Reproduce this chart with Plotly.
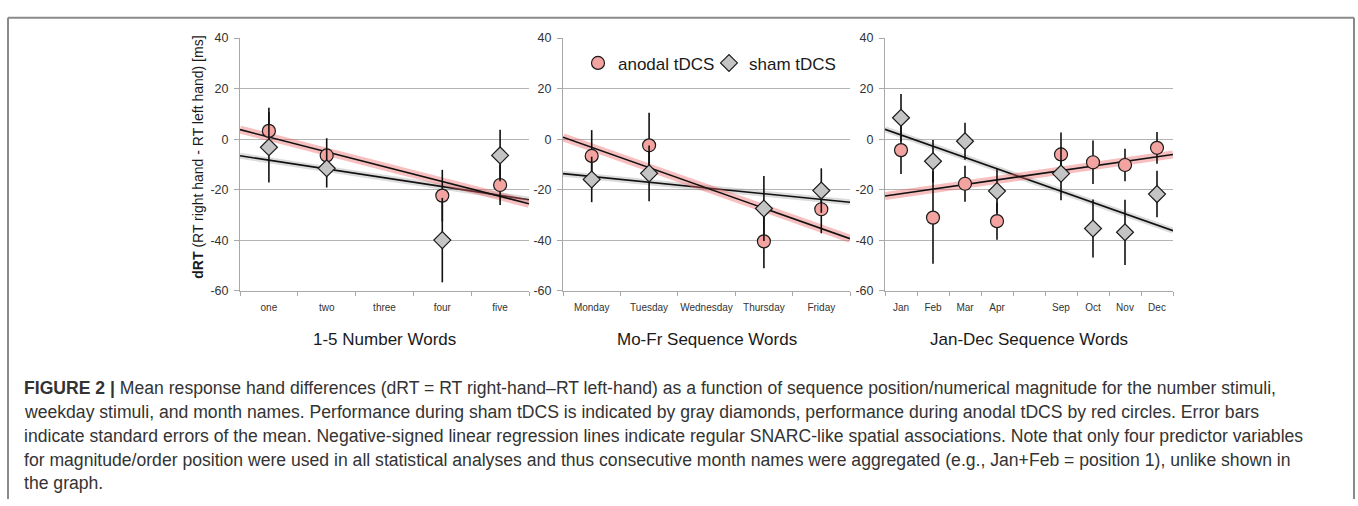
import numpy as np
import plotly.graph_objects as go

# ---------------- data ----------------
p1_categories = ["one", "two", "three", "four", "five"]
p1_x_anodal = ["one", "two", "four", "five"]
p1_anodal = [3.3, -6.4, -22.3, -18.1]
p1_anodal_se = [9.2, 6.8, 10.2, 7.9]
p1_sham = [-3.2, -11.5, -39.9, -6.4]
p1_sham_se = [13.9, 7.6, 16.7, 10.2]

p2_categories = ["Monday", "Tuesday", "Wednesday", "Thursday", "Friday"]
p2_x = ["Monday", "Tuesday", "Thursday", "Friday"]
p2_anodal = [-6.6, -2.4, -40.4, -27.7]
p2_anodal_se = [10.2, 12.9, 10.6, 9.5]
p2_sham = [-15.9, -13.5, -27.4, -20.3]
p2_sham_se = [9.0, 11.0, 12.9, 8.8]

p3_categories = ["Jan", "Feb", "Mar", "Apr", "", "Sep", "Oct", "Nov", "Dec"]
p3_x = ["Jan", "Feb", "Mar", "Apr", "Sep", "Oct", "Nov", "Dec"]
p3_anodal = [-4.3, -31.0, -17.6, -32.4, -6.0, -9.1, -10.2, -3.4]
p3_anodal_se = [9.5, 18.3, 7.1, 7.4, 8.7, 8.6, 6.4, 6.3]
p3_sham = [8.5, -8.7, -0.8, -20.5, -13.6, -35.3, -36.8, -21.7]
p3_sham_se = [9.4, 8.4, 7.3, 8.8, 10.5, 11.5, 12.9, 9.2]

panel_titles = ["1-5 Number Words", "Mo-Fr Sequence Words", "Jan-Dec Sequence Words"]
y_ticks = [-60, -40, -20, 0, 20, 40]
y_tick_labels = ["-60", "-40", "-20", "0", "20", "40"]
y_range = [-60, 40]
legend_names = ["anodal tDCS", "sham tDCS"]
y_title = "<b>dRT</b> (RT right hand - RT left hand) [ms]"

caption_lines = [
    "<b>FIGURE 2 |</b> Mean response hand differences (dRT = RT right-hand\u2013RT left-hand) as a function of sequence position/numerical magnitude for the number stimuli,",
    "weekday stimuli, and month names. Performance during sham tDCS is indicated by gray diamonds, performance during anodal tDCS by red circles. Error bars",
    "indicate standard errors of the mean. Negative-signed linear regression lines indicate regular SNARC-like spatial associations. Note that only four predictor variables",
    "for magnitude/order position were used in all statistical analyses and thus consecutive month names were aggregated (e.g., Jan+Feb = position 1), unlike shown in",
    "the graph.",
]

# ---------------- style ----------------
W, H = 1358, 506
FONT = "Liberation Sans, Arial, sans-serif"
GRID = "#b4b4b4"
AXIS = "#a8a8a8"
RED_FILL = "#f3a3a0"
GRAY_FILL = "#c4c4c4"
EDGE = "#1a1a1a"

panels = [
    dict(cats=p1_categories, xa=p1_x_anodal, an=p1_anodal, ans=p1_anodal_se, sh=p1_sham, shs=p1_sham_se,
         x0=240, x1=529),
    dict(cats=p2_categories, xa=p2_x, an=p2_anodal, ans=p2_anodal_se, sh=p2_sham, shs=p2_sham_se,
         x0=563, x1=850),
    dict(cats=p3_categories, xa=p3_x, an=p3_anodal, ans=p3_anodal_se, sh=p3_sham, shs=p3_sham_se,
         x0=885, x1=1173),
]
Y_TOP, Y_BOT = 32, 292


def px_x(p):
    return p / W


def px_y(p):
    return 1 - p / H


fig = go.Figure()
layout_axes = {}
annotations = []

for i, P in enumerate(panels):
    n = i + 1
    xa_name = "x" if n == 1 else f"x{n}"
    ya_name = "y" if n == 1 else f"y{n}"
    pos = {c: k + 1 for k, c in enumerate(P["cats"])}
    xs = np.array([pos[c] for c in P["xa"]], dtype=float)
    ncat = len(P["cats"])
    xr = [0.5, ncat + 0.5]

    # regression lines (OLS of the plotted means), drawn across the axis
    line_x = np.array(xr)
    for vals, glow, glow_w in [(P["sh"], "rgba(150,150,150,0.33)", 6),
                               (P["an"], "rgba(235,95,95,0.40)", 8)]:
        slope, icpt = np.polyfit(xs, np.array(vals), 1)
        ly = slope * line_x + icpt
        fig.add_trace(go.Scatter(x=line_x, y=ly, mode="lines", xaxis=xa_name, yaxis=ya_name,
                                 line=dict(color=glow, width=glow_w), showlegend=False, hoverinfo="skip"))
        fig.add_trace(go.Scatter(x=line_x, y=ly, mode="lines", xaxis=xa_name, yaxis=ya_name,
                                 line=dict(color="#111111", width=1.6), showlegend=False, hoverinfo="skip"))

    fig.add_trace(go.Scatter(
        x=xs, y=P["an"], mode="markers", name=legend_names[0], legendgroup="a", showlegend=(n == 1),
        legend="legend", xaxis=xa_name, yaxis=ya_name,
        error_y=dict(type="data", array=P["ans"], color="#111111", thickness=1.6, width=0),
        marker=dict(symbol="circle", size=13, color=RED_FILL, line=dict(color=EDGE, width=1.2)),
    ))
    fig.add_trace(go.Scatter(
        x=xs, y=P["sh"], mode="markers", name=legend_names[1], legendgroup="s", showlegend=(n == 1),
        legend="legend2", xaxis=xa_name, yaxis=ya_name,
        error_y=dict(type="data", array=P["shs"], color="#111111", thickness=1.6, width=0),
        marker=dict(symbol="diamond", size=13, color=GRAY_FILL, line=dict(color=EDGE, width=1.2)),
    ))

    xkey = "xaxis" if n == 1 else f"xaxis{n}"
    ykey = "yaxis" if n == 1 else f"yaxis{n}"
    layout_axes[xkey] = dict(
        domain=[px_x(P["x0"]), px_x(P["x1"])], anchor=ya_name, range=xr,
        tickmode="array", tickvals=list(range(1, ncat + 1)), ticktext=P["cats"],
        ticks="", showgrid=False, zeroline=False, showline=True, linecolor=AXIS, linewidth=1,
        tickfont=dict(family=FONT, size=10, color="#333333"), ticklabelstandoff=7,
        minor=dict(tickmode="array", tickvals=[k + 0.5 for k in range(ncat + 1)],
                   ticks="outside", ticklen=4, tickcolor=AXIS, tickwidth=1, showgrid=False),
        fixedrange=True,
    )
    layout_axes[ykey] = dict(
        domain=[px_y(Y_BOT), px_y(Y_TOP)], anchor=xa_name, range=y_range,
        tickmode="array", tickvals=y_ticks, ticktext=y_tick_labels,
        ticks="outside", ticklen=5, tickcolor=AXIS,
        showgrid=True, gridcolor=GRID, gridwidth=1, zeroline=False,
        showline=True, linecolor=AXIS, linewidth=1,
        tickfont=dict(family=FONT, size=12.5, color="#333333"), ticklabelstandoff=3,
        fixedrange=True,
    )
    annotations.append(dict(
        text=panel_titles[i], x=px_x((P["x0"] + P["x1"]) / 2), y=px_y(342),
        xref="paper", yref="paper", xanchor="center", yanchor="middle", showarrow=False,
        font=dict(family=FONT, size=17, color="#1a1a1a"),
    ))

annotations.append(dict(
    text=y_title, x=px_x(198), y=px_y(155), xref="paper", yref="paper", textangle=-90,
    xanchor="center", yanchor="middle", showarrow=False,
    font=dict(family=FONT, size=14, color="#1a1a1a"),
))

for k, line in enumerate(caption_lines):
    annotations.append(dict(
        text=line, x=px_x(22), y=px_y(392 + 24.5 * k), xref="paper", yref="paper",
        xanchor="left", yanchor="middle", showarrow=False, align="left",
        font=dict(family=FONT, size=17.6, color="#333333"),
    ))

FRAME = dict(color="#8a8a8a", width=2)
shapes = [
    dict(type="line", xref="paper", yref="paper", x0=px_x(8), x1=px_x(1354), y0=px_y(11), y1=px_y(11), line=FRAME),
    dict(type="line", xref="paper", yref="paper", x0=px_x(8), x1=px_x(8), y0=px_y(11), y1=px_y(506), line=FRAME),
    dict(type="line", xref="paper", yref="paper", x0=px_x(1354), x1=px_x(1354), y0=px_y(11), y1=px_y(506), line=FRAME),
]

LEG_FONT = dict(family=FONT, size=17, color="#1a1a1a")
fig.update_layout(
    width=W, height=H, autosize=False,
    margin=dict(l=0, r=0, t=0, b=0),
    paper_bgcolor="white", plot_bgcolor="white",
    showlegend=True,
    legend=dict(orientation="h", x=px_x(578), y=px_y(58), xanchor="left", yanchor="middle",
                bgcolor="rgba(0,0,0,0)", font=LEG_FONT, itemwidth=30),
    legend2=dict(orientation="h", x=px_x(709), y=px_y(58), xanchor="left", yanchor="middle",
                 bgcolor="rgba(0,0,0,0)", font=LEG_FONT, itemwidth=30),
    annotations=annotations, shapes=shapes,
    font=dict(family=FONT),
    **layout_axes,
)

fig.write_html(
    "out.html",
    config={"displayModeBar": False},
    post_script="document.body.style.margin='0';document.body.style.overflow='hidden';",
)
